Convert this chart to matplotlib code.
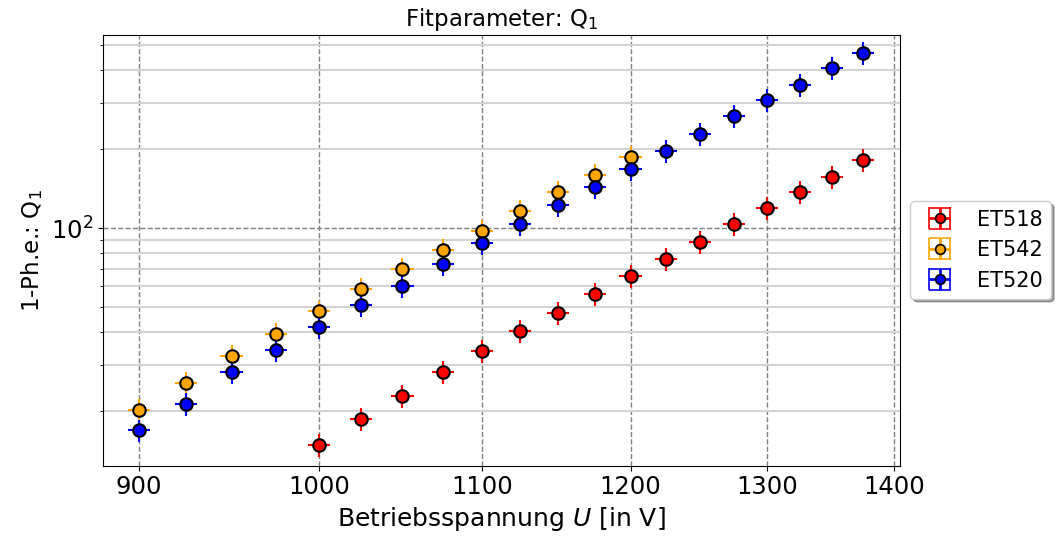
import numpy as np
import matplotlib
matplotlib.use("Agg")
import matplotlib.pyplot as plt
from matplotlib.ticker import NullLocator, NullFormatter, LogLocator, FixedLocator, FixedFormatter

# ---- data ----
u_et518 = [1000, 1025, 1050, 1075, 1100, 1125, 1150, 1175, 1200, 1225, 1250, 1275, 1300, 1325, 1350, 1375]
q_et518 = [14.9, 18.7, 22.9, 28.3, 33.9, 40.6, 47.6, 56.2, 65.5, 76.3, 88.6, 103.4, 119.0, 136.9, 156.8, 181.4]

u_et542 = [900, 925, 950, 975, 1000, 1025, 1050, 1075, 1100, 1125, 1150, 1175, 1200]
q_et542 = [20.3, 25.6, 32.5, 39.6, 48.1, 58.6, 69.9, 82.8, 97.8, 116.1, 137.5, 159.6, 186.3]

u_et520 = [900, 925, 950, 975, 1000, 1025, 1050, 1075, 1100, 1125, 1150, 1175, 1200, 1225, 1250, 1275, 1300, 1325, 1350, 1375]
q_et520 = [16.9, 21.4, 28.3, 34.4, 41.9, 50.7, 60.0, 73.0, 87.8, 103.6, 122.2, 144.0, 167.7, 196.4, 229.5, 268.1, 307.4, 352.9, 407.4, 467.6]

rel_err_q = 0.10     # relative uncertainty of Q1
rel_err_u = 0.0065   # relative uncertainty of voltage

labels = ["ET518", "ET542", "ET520"]
colors = ["red", "orange", "blue"]
xticks = [900, 1000, 1100, 1200, 1300, 1400]

# ---- figure ----
fig = plt.figure(figsize=(10.62, 5.41), dpi=100)
ax = fig.add_axes([0.0967, 0.1392, 0.7508, 0.7967])

series = [(u_et518, q_et518), (u_et542, q_et542), (u_et520, q_et520)]
handles = []
for (u, q), lab, col in zip(series, labels, colors):
    u = np.asarray(u, float)
    q = np.asarray(q, float)
    ax.errorbar(u, q, xerr=u * rel_err_u, yerr=q * rel_err_q, fmt="o",
                color=col, ecolor=col, mfc=col, mec="black", ms=9, mew=1.5,
                elinewidth=1.5, capsize=0, zorder=3)
    # proxy for legend (with caps, like the reference)
    h = ax.errorbar([np.nan], [np.nan], xerr=[1], yerr=[1], fmt="o",
                    color=col, ecolor=col, mfc=col, mec="black", ms=7, mew=1.2,
                    elinewidth=2.0, capsize=8, capthick=2.0, label=lab)
    handles.append(h)

ax.set_xscale("log")
ax.set_yscale("log")
ax.set_xlim(881, 1405)
ax.set_ylim(12.4, 547)

ax.xaxis.set_major_locator(FixedLocator(xticks))
ax.xaxis.set_major_formatter(FixedFormatter([str(t) for t in xticks]))
ax.xaxis.set_minor_locator(NullLocator())
ax.yaxis.set_major_locator(LogLocator(base=10))
ax.yaxis.set_minor_locator(LogLocator(base=10, subs=np.arange(2, 10)))
ax.yaxis.set_minor_formatter(NullFormatter())

ax.grid(True, which="major", axis="both", linestyle="--", color="#808080", linewidth=1.0)
ax.grid(True, which="minor", axis="y", linestyle="-", color="#d3d3d3", linewidth=1.5)
ax.set_axisbelow(True)

ax.tick_params(axis="both", which="major", labelsize=17.5)
ax.set_xlabel("Betriebsspannung $U$ [in V]", fontsize=18)
ax.set_ylabel("1-Ph.e.: Q$_1$", fontsize=16.5)
ax.set_title("Fitparameter: Q$_1$", fontsize=16.5)

ax.legend(handles=handles, loc="center left", bbox_to_anchor=(1.0, 0.5),
          fontsize=15, shadow=True, fancybox=True)

fig.savefig("out.png", dpi=100)
